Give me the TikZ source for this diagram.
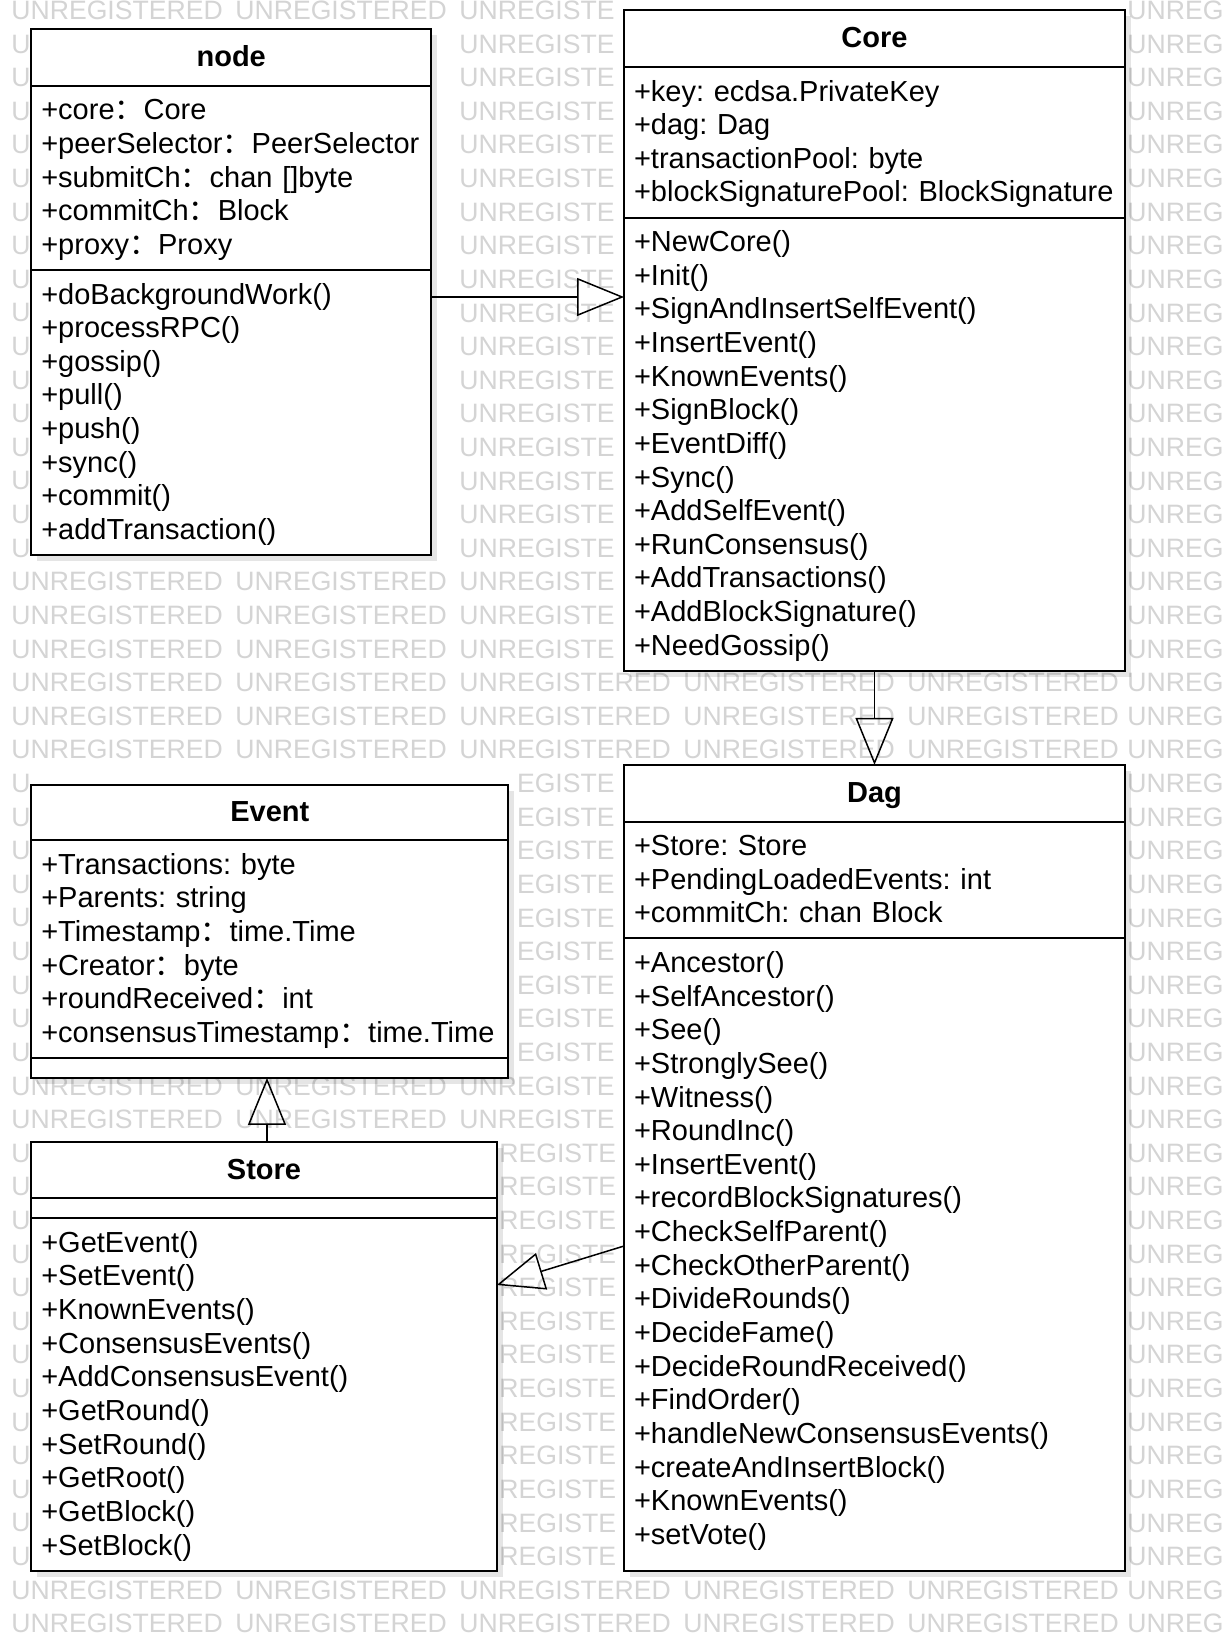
\documentclass[tikz,border=0pt]{standalone}
\usepackage{fontspec}
\setmainfont{Liberation Sans}
\newfontfamily\cjk{Noto Sans CJK SC}
\usepackage{tikz}
\usetikzlibrary{arrows.meta}
\usetikzlibrary{positioning}
\usetikzlibrary{shadows}
\frenchspacing

\newcommand{\fwcolon}{{\cjk ：}}
\newcommand{\umlstrut}{\rule[-3.8pt]{0pt}{16.82pt}}
\newcommand{\umlrows}[1]{\foreach \mem in {#1}{\umlstrut\mbox{\mem}\par}}

\begin{document}
\begin{tikzpicture}[x=0.5pt, y=-0.5pt]
  \tikzset{umlpart/.style = {draw, line width=1pt, fill=white, outer sep=0pt,
      inner xsep=5pt, inner ysep=4pt, align=left,
      font=\fontsize{14.5}{16.82}\selectfont,
      drop shadow={shadow xshift=3pt, shadow yshift=-3pt, fill=black, opacity=0.1}}}
  \tikzset{umlhead/.style = {umlpart, align=center, minimum height=28.3pt,
      execute at begin node=\umlstrut, font=\fontsize{14.5}{16.82}\selectfont\bfseries}}
  \tikzset{umlempty/.style = {umlpart, minimum height=10pt}}
  \tikzset{inherit/.style = {-{Triangle[open, length=23.5pt, width=19pt]}, line width=0.75pt}}
  \tikzset{stamp/.style = {anchor=west, inner sep=0pt, text=black!17,
      font=\fontsize{13.3}{16}\selectfont}}

  \path[use as bounding box, fill=white] (0,0) rectangle (1223,1636);

  % watermark, only where it shows between the boxes
  \foreach \row in {0,17,18,19,32,33} {
    \node[stamp] at (11,{10.4+33.61*\row}) {UNREGISTERED};
    \node[stamp] at (235,{10.4+33.61*\row}) {UNREGISTERED};
    \node[stamp] at (459,{10.4+33.61*\row}) {UNREGISTE};
  }
  \foreach \row in {20,21,22,47,48}
    \foreach \col in {0,...,4}
      \node[stamp] at ({11+224*\col},{10.4+33.61*\row}) {UNREGISTERED};
  \foreach \row in {1,...,16} {
    \node[stamp] at (11,{10.4+33.61*\row}) {U};
    \node[stamp] at (459,{10.4+33.61*\row}) {UNREGISTE};
  }
  \foreach \row in {23,...,31} {
    \node[stamp] at (11,{10.4+33.61*\row}) {U};
    \node[stamp] at (516.6,{10.4+33.61*\row}) {EGISTE};
  }
  \foreach \row in {34,...,46} {
    \node[stamp] at (11,{10.4+33.61*\row}) {U};
    \node[stamp] at (499,{10.4+33.61*\row}) {REGISTE};
  }
  \foreach \row in {0,...,48}
    \node[stamp] at (1127,{10.4+33.61*\row}) {UNREG};

  % node
  \node[umlhead, text width=189.9pt, anchor=north west] (nodeHead) at (31.3,29.2) {node};
  \node[umlpart, text width=189.9pt, below=0pt of nodeHead] (nodeAttr) {\umlrows{
      +core\fwcolon Core, +peerSelector\fwcolon PeerSelector, +submitCh\fwcolon chan []byte,
      +commitCh\fwcolon Block, +proxy\fwcolon Proxy}};
  \node[umlpart, text width=189.9pt, below=0pt of nodeAttr] (nodeOps) {\umlrows{
      +doBackgroundWork(), +processRPC(), +gossip(), +pull(), +push(), +sync(),
      +commit(), +addTransaction()}};

  % Core
  \node[umlhead, text width=240.5pt, anchor=north west] (coreHead) at (624,10.4) {Core};
  \node[umlpart, text width=240.5pt, below=0pt of coreHead] (coreAttr) {\umlrows{
      +key: ecdsa.PrivateKey, +dag: Dag, +transactionPool: byte,
      +blockSignaturePool: BlockSignature}};
  \node[umlpart, text width=240.5pt, below=0pt of coreAttr] (coreOps) {\umlrows{
      +NewCore(), +Init(), +SignAndInsertSelfEvent(), +InsertEvent(), +KnownEvents(),
      +SignBlock(), +EventDiff(), +Sync(), +AddSelfEvent(), +RunConsensus(),
      +AddTransactions(), +AddBlockSignature(), +NeedGossip()}};

  % Dag
  \node[umlhead, text width=240.5pt, anchor=north west] (dagHead) at (624,764.9) {Dag};
  \node[umlpart, text width=240.5pt, below=0pt of dagHead] (dagAttr) {\umlrows{
      +Store: Store, +PendingLoadedEvents: int, +commitCh: chan Block}};
  \node[umlpart, text width=240.5pt, below=0pt of dagAttr] (dagOps) {\umlrows{
      +Ancestor(), +SelfAncestor(), +See(), +StronglySee(), +Witness(), +RoundInc(),
      +InsertEvent(), +recordBlockSignatures(), +CheckSelfParent(), +CheckOtherParent(),
      +DivideRounds(), +DecideFame(), +DecideRoundReceived(), +FindOrder(),
      +handleNewConsensusEvents(), +createAndInsertBlock(), +KnownEvents(),
      +setVote()\rule[-9.2pt]{0pt}{0pt}}};

  % Event
  \node[umlhead, text width=228.5pt, minimum height=27.7pt, anchor=north west] (eventHead) at (31.3,784.7) {Event};
  \node[umlpart, text width=228.5pt, below=0pt of eventHead] (eventAttr) {\umlrows{
      +Transactions: byte, +Parents: string, +Timestamp\fwcolon time.Time,
      +Creator\fwcolon byte, +roundReceived\fwcolon int,
      +consensusTimestamp\fwcolon time.Time}};
  \node[umlempty, text width=228.5pt, below=0pt of eventAttr] (eventOps) {};

  % Store
  \node[umlhead, text width=222.7pt, anchor=north west] (storeHead) at (31.3,1141.6) {Store};
  \node[umlempty, text width=222.7pt, below=0pt of storeHead] (storeAttr) {};
  \node[umlpart, text width=222.7pt, below=0pt of storeAttr] (storeOps) {\umlrows{
      +GetEvent(), +SetEvent(), +KnownEvents(), +ConsensusEvents(), +AddConsensusEvent(),
      +GetRound(), +SetRound(), +GetRoot(), +GetBlock(), +SetBlock()}};

  % generalisations
  \coordinate (n2c) at ([yshift=-13.5pt]nodeOps.north east);
  \coordinate (c2n) at (n2c -| coreOps.west);
  \coordinate (s2e) at ([xshift=1.5pt]storeHead.north);
  \coordinate (e2s) at (s2e |- eventOps.south);
  \coordinate (d2s) at ([yshift=-153.8pt]dagOps.north west);
  \coordinate (s2d) at ([yshift=-33.4pt]storeOps.north east);

  \foreach \from/\to in {n2c/c2n, coreOps.south/dagHead.north, s2e/e2s, d2s/s2d}
    \draw[inherit] (\from) -- (\to);
\end{tikzpicture}
\end{document}
